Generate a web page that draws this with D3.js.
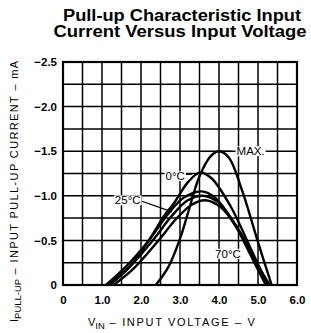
<!DOCTYPE html>
<html>
<head>
<meta charset="utf-8">
<script src="https://cdn.jsdelivr.net/npm/d3@7"></script>
<style>
    html, body { margin: 0; padding: 0; background: #fff; }
    svg { display: block; }
    text { font-family: "Liberation Sans", Arial, sans-serif; fill: #000; }
</style>
</head>
<body>
<div id="chart"></div>
<script>
const WIDTH  = 311;
const HEIGHT = 333;

// Axis ticks
const xTicks = [0, 1, 2, 3, 4, 5, 6];
const yTicks = [0, -0.5, -1.0, -1.5, -2.0, -2.5];

// Curves: [V_IN, I_PULL-UP mA]
const seriesNames = ["MAX.", "0°C", "25°C-a", "25°C-b", "70°C"];
const curveMax  = [[2.38, 0], [2.7, -0.2], [3.0, -0.52], [3.2, -0.8], [3.5, -1.22], [3.8, -1.45], [4.0, -1.5], [4.25, -1.43], [4.6, -1.05], [5.0, -0.48], [5.35, 0]];
const curve0C   = [[1.2, 0], [1.7, -0.2], [2.2, -0.5], [2.6, -0.78], [2.85, -0.92], [3.2, -1.15], [3.5, -1.26], [3.8, -1.2], [4.3, -0.88], [4.8, -0.42], [5.25, 0]];
const curve25a  = [[1.1, 0], [1.6, -0.2], [2.2, -0.5], [2.7, -0.8], [3.1, -0.98], [3.55, -1.05], [3.9, -0.98], [4.4, -0.68], [4.85, -0.3], [5.2, 0]];
const curve25b  = [[1.15, 0], [1.7, -0.2], [2.3, -0.5], [2.8, -0.78], [3.2, -0.95], [3.6, -1.0], [4.0, -0.92], [4.5, -0.62], [4.95, -0.25], [5.25, 0]];
const curve70C  = [[1.3, 0], [1.8, -0.18], [2.45, -0.5], [2.9, -0.74], [3.3, -0.9], [3.65, -0.95], [4.05, -0.87], [4.55, -0.58], [5.0, -0.22], [5.3, 0]];
const seriesValues = [curveMax, curve0C, curve25a, curve25b, curve70C];

// Labels and their pointers: [text, V, I, pointer from [V, I] to [V, I]]
const labels = [
    ["MAX.",  4.45, -1.5,  [[4.03, -1.5],  [4.3, -1.5]]],
    ["0°C",   2.63, -1.22, [[3.0, -1.24],  [3.3, -1.24]]],
    ["25°C",  1.33, -0.95, [[1.95, -0.95], [2.8, -0.82]]],
    ["70°C",  3.9,  -0.35, null]
];

const margin = { top: 62, left: 63 };

const svg = d3.select("#chart")
    .append("svg")
    .attr("width", WIDTH)
    .attr("height", HEIGHT);

// Title
const title = svg.append("text")
    .attr("text-anchor", "middle")
    .attr("font-weight", "bold")
    .attr("font-size", 16)
    .attr("lengthAdjust", "spacingAndGlyphs");
title.append("tspan").attr("x", 182).attr("y", 21)
    .attr("textLength", 238).attr("lengthAdjust", "spacingAndGlyphs")
    .text("Pull-up Characteristic Input");
title.append("tspan").attr("x", 180).attr("y", 37)
    .attr("textLength", 253).attr("lengthAdjust", "spacingAndGlyphs")
    .text("Current Versus Input Voltage");

const g = svg.append("g")
    .attr("transform", `translate(${margin.left},${margin.top})`);

const x = d3.scaleLinear().domain([0, 6]).range([0, 234]);
const y = d3.scaleLinear().domain([0, -2.5]).range([223, 0]);

// Grid
g.append("g")
    .selectAll("line")
    .data(d3.range(0, 13).map((i) => i * 0.5))
    .join("line")
    .attr("x1", (d) => x(d)).attr("x2", (d) => x(d))
    .attr("y1", 0).attr("y2", y(0))
    .attr("stroke", "#000")
    .attr("stroke-width", 1.5);

g.append("g")
    .selectAll("line")
    .data(d3.range(0, 11).map((i) => -i * 0.25))
    .join("line")
    .attr("x1", 0).attr("x2", x(6))
    .attr("y1", (d) => y(d)).attr("y2", (d) => y(d))
    .attr("stroke", "#000")
    .attr("stroke-width", 1.5);

g.append("rect")
    .attr("x", 0).attr("y", 0)
    .attr("width", x(6)).attr("height", y(0))
    .attr("fill", "none")
    .attr("stroke", "#000")
    .attr("stroke-width", 2.2);

// Axes (labels only)
const xAxis = g.append("g")
    .attr("transform", `translate(0,${y(0)})`)
    .call(d3.axisBottom(x).tickValues(xTicks).tickSize(0).tickPadding(11)
        .tickFormat((d) => d === 0 ? "0" : d3.format(".1f")(d)));

const yAxis = g.append("g")
    .call(d3.axisLeft(y).tickValues(yTicks).tickSize(0).tickPadding(6)
        .tickFormat((d) => d === 0 ? "0" : "\u2212" + d3.format(".1f")(-d)));

[xAxis, yAxis].forEach((a) => {
    a.select(".domain").remove();
    a.selectAll("text")
        .attr("font-family", "Liberation Sans, Arial, sans-serif")
        .attr("font-size", 11.5)
        .attr("font-weight", "bold")
        .attr("fill", "#000");
});

// Curves
const line = d3.line()
    .x((d) => x(d[0]))
    .y((d) => y(d[1]))
    .curve(d3.curveCatmullRom.alpha(0.5));

g.append("g")
    .selectAll("path")
    .data(seriesValues)
    .join("path")
    .attr("d", line)
    .attr("fill", "none")
    .attr("stroke", "#000")
    .attr("stroke-width", 2.4);

// Labels with white background and pointers
labels.forEach(([text, lv, li, ptr]) => {
    if (ptr) {
        g.append("line")
            .attr("x1", x(ptr[0][0])).attr("y1", y(ptr[0][1]))
            .attr("x2", x(ptr[1][0])).attr("y2", y(ptr[1][1]))
            .attr("stroke", "#000")
            .attr("stroke-width", 1.2);
    }
    const t = g.append("text")
        .attr("x", x(lv))
        .attr("y", y(li))
        .attr("dy", "0.35em")
        .attr("font-size", 11.5)
        .text(text);
    const bb = t.node().getBBox();
    g.insert("rect", () => t.node())
        .attr("x", bb.x - 1).attr("y", bb.y + 1)
        .attr("width", bb.width + 2).attr("height", bb.height - 2)
        .attr("fill", "#fff");
});

// Axis titles
const yTitle = svg.append("text")
    .attr("transform", "translate(18,322) rotate(-90)")
    .attr("font-size", 11);
yTitle.append("tspan").text("I");
yTitle.append("tspan").attr("dy", 3).attr("font-size", 9.5).text("PULL-UP");
yTitle.append("tspan").attr("dy", -3)
    .attr("textLength", 218).attr("lengthAdjust", "spacing")
    .text(" \u2013 INPUT PULL-UP CURRENT \u2013 mA");

const xTitle = svg.append("text")
    .attr("x", 88)
    .attr("y", 326)
    .attr("font-size", 11);
xTitle.append("tspan").text("V");
xTitle.append("tspan").attr("dy", 3).attr("font-size", 9.5).text("IN");
xTitle.append("tspan").attr("dy", -3)
    .attr("textLength", 150).attr("lengthAdjust", "spacing")
    .text(" \u2013 INPUT VOLTAGE \u2013 V");
</script>
</body>
</html>
